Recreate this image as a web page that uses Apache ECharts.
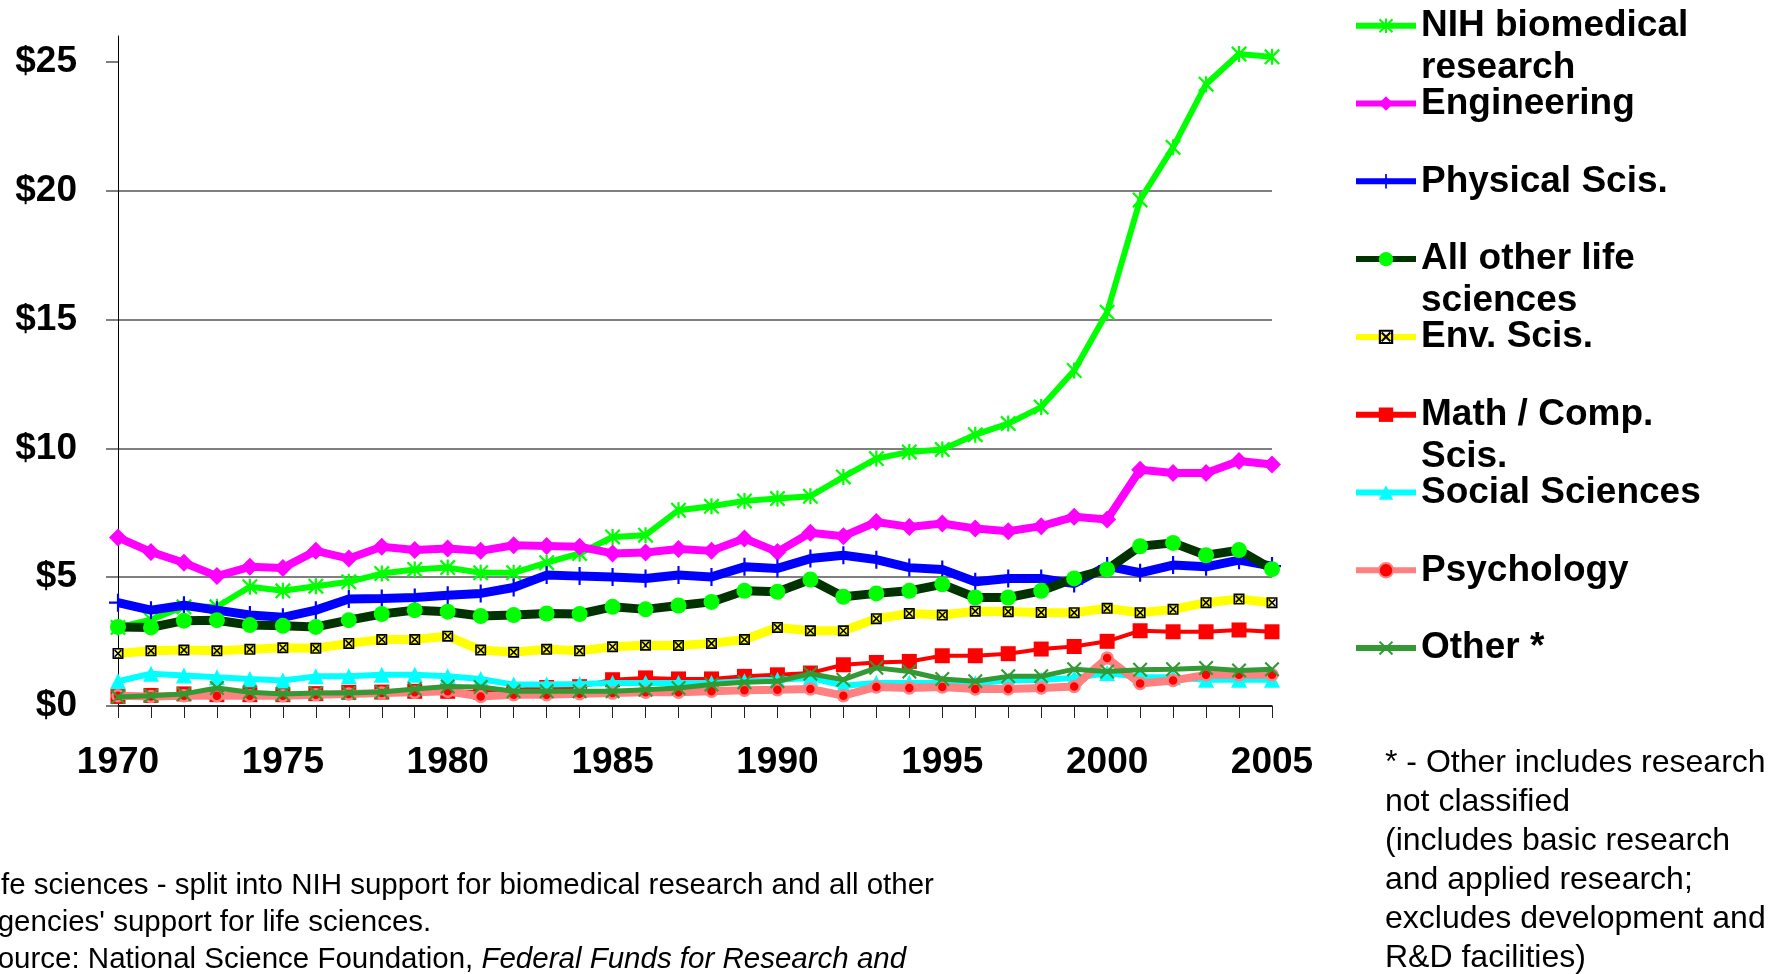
<!DOCTYPE html>
<html>
<head>
<meta charset="utf-8">
<script src="https://cdn.jsdelivr.net/npm/echarts@6/dist/echarts.min.js"></script>
<style>
html,body{margin:0;padding:0;background:#ffffff;}
#chart{width:1785px;height:974px;}
</style>
</head>
<body>
<div id="chart"></div>
<script>
// ---------------- data ----------------
const years = ['1970','1971','1972','1973','1974','1975','1976','1977','1978','1979',
  '1980','1981','1982','1983','1984','1985','1986','1987','1988','1989',
  '1990','1991','1992','1993','1994','1995','1996','1997','1998','1999',
  '2000','2001','2002','2003','2004','2005'];
const yTicks = [0, 5, 10, 15, 20, 25];
const xLabelStep = 5;

const nih = [3.05, 3.35, 3.85, 3.85, 4.63, 4.47, 4.65, 4.82, 5.14, 5.30,
  5.37, 5.17, 5.17, 5.56, 5.92, 6.56, 6.63, 7.60, 7.75, 7.96,
  8.05, 8.14, 8.89, 9.60, 9.86, 9.95, 10.53, 10.96, 11.60, 13.02,
  15.28, 19.64, 21.68, 24.13, 25.30, 25.19];
const engineering = [6.54, 5.98, 5.56, 5.04, 5.40, 5.36, 6.02, 5.72, 6.18, 6.05,
  6.11, 6.02, 6.24, 6.21, 6.18, 5.92, 5.96, 6.09, 6.02, 6.50,
  5.98, 6.72, 6.59, 7.14, 6.95, 7.08, 6.89, 6.78, 6.98, 7.34,
  7.24, 9.17, 9.04, 9.04, 9.51, 9.37];
const physical = [4.01, 3.72, 3.91, 3.72, 3.53, 3.44, 3.72, 4.15, 4.17, 4.21,
  4.30, 4.37, 4.60, 5.08, 5.04, 5.01, 4.95, 5.08, 5.01, 5.40,
  5.34, 5.72, 5.85, 5.68, 5.37, 5.30, 4.82, 4.95, 4.95, 4.75,
  5.43, 5.17, 5.47, 5.40, 5.66, 5.43];
const otherLife = [3.07, 3.05, 3.31, 3.33, 3.14, 3.11, 3.07, 3.33, 3.57, 3.72,
  3.66, 3.49, 3.53, 3.59, 3.57, 3.85, 3.75, 3.90, 4.04, 4.47,
  4.43, 4.91, 4.24, 4.37, 4.47, 4.72, 4.21, 4.21, 4.47, 4.95,
  5.30, 6.20, 6.33, 5.85, 6.05, 5.31];
const envSci = [2.04, 2.14, 2.17, 2.14, 2.20, 2.26, 2.24, 2.43, 2.58, 2.58,
  2.71, 2.17, 2.09, 2.20, 2.14, 2.30, 2.36, 2.35, 2.43, 2.58,
  3.05, 2.92, 2.92, 3.39, 3.59, 3.53, 3.68, 3.66, 3.63, 3.62,
  3.79, 3.62, 3.75, 4.01, 4.15, 4.01];
const mathComp = [0.37, 0.41, 0.47, 0.44, 0.44, 0.44, 0.48, 0.53, 0.54, 0.57,
  0.57, 0.53, 0.62, 0.72, 0.75, 1.02, 1.09, 1.05, 1.05, 1.15,
  1.21, 1.28, 1.60, 1.69, 1.73, 1.95, 1.95, 2.03, 2.21, 2.31,
  2.51, 2.92, 2.88, 2.88, 2.95, 2.88];
const socialSci = [0.96, 1.25, 1.18, 1.12, 1.05, 0.99, 1.15, 1.15, 1.21, 1.21,
  1.15, 1.05, 0.83, 0.83, 0.85, 0.89, 0.89, 0.89, 0.89, 0.96,
  1.02, 1.09, 0.79, 0.89, 0.89, 0.89, 0.88, 0.99, 1.02, 1.09,
  1.28, 1.12, 1.12, 1.02, 1.02, 1.02];
const psychology = [0.40, 0.37, 0.40, 0.40, 0.40, 0.40, 0.44, 0.47, 0.50, 0.53,
  0.57, 0.37, 0.44, 0.44, 0.48, 0.50, 0.53, 0.53, 0.57, 0.61,
  0.63, 0.66, 0.40, 0.74, 0.70, 0.74, 0.66, 0.66, 0.70, 0.76,
  1.86, 0.87, 0.99, 1.21, 1.21, 1.21];
const otherStar = [0.35, 0.40, 0.47, 0.70, 0.53, 0.47, 0.50, 0.50, 0.54, 0.66,
  0.76, 0.74, 0.57, 0.57, 0.57, 0.57, 0.63, 0.70, 0.83, 0.92,
  0.96, 1.25, 1.02, 1.48, 1.34, 1.05, 0.96, 1.15, 1.15, 1.43,
  1.34, 1.41, 1.43, 1.47, 1.38, 1.43];

const seriesNames = ['NIH biomedical research', 'Engineering', 'Physical Scis.',
  'All other life sciences', 'Env. Scis.', 'Math / Comp. Scis.',
  'Social Sciences', 'Psychology', 'Other *'];
const legendLabels = ['NIH biomedical\nresearch', 'Engineering', 'Physical Scis.',
  'All other life\nsciences', 'Env. Scis.', 'Math / Comp.\nScis.',
  'Social Sciences', 'Psychology', 'Other *'];
const seriesData = [nih, engineering, physical, otherLife, envSci, mathComp, socialSci, psychology, otherStar];

const footLeft = "Life sciences - split into NIH support for biomedical research and all other\nAgencies' support for life sciences.\nSource: National Science Foundation, {i|Federal Funds for Research and}";
const footRight = "* - Other includes research\nnot classified\n(includes basic research\nand applied research;\nexcludes development and\nR&D facilities)";

// ---------------- styles ----------------
const FONT = '"Liberation Sans", Arial, Helvetica, sans-serif';
const SYM_STAR = 'path://M8.6,0L11.4,0L11.4,20L8.6,20Z M2,0L20,18L18,20L0,2Z M18,0L20,2L2,20L0,18Z';
const SYM_X = 'path://M2,0L20,18L18,20L0,2Z M18,0L20,2L2,20L0,18Z';
const SYM_PLUS = 'path://M8.8,0L11.2,0L11.2,20L8.8,20Z M0,8.8L20,8.8L20,11.2L0,11.2Z';
const SYM_BOXX = 'path://M0,0L20,0L20,20L0,20Z M3,3L3,17L17,17L17,3Z M3,5L5,3L17,15L15,17Z M15,3L17,5L5,17L3,15Z';

const styles = [
  {line: '#00FF00', width: 6, sym: SYM_STAR, size: 16, fill: '#00FF00'},
  {line: '#FF00FF', width: 8, sym: 'diamond', size: 18, fill: '#FF00FF'},
  {line: '#0000FF', width: 9, sym: SYM_PLUS, size: 18, fill: '#0000FF'},
  {line: '#003300', width: 9, sym: 'circle', size: 16, fill: '#00FF00'},
  {line: '#FFFF00', width: 9, sym: SYM_BOXX, size: 11, fill: '#000000'},
  {line: '#FF0000', width: 4, sym: 'rect', size: 15, fill: '#FF0000'},
  {line: '#00FFFF', width: 6, sym: 'triangle', size: 16, fill: '#00FFFF'},
  {line: '#FF8080', width: 8, sym: 'circle', size: 11, fill: '#FF0000', border: '#FF8080', bw: 2.5},
  {line: '#339933', width: 5, sym: SYM_X, size: 15, fill: '#339933'}
];

const series = seriesNames.map((name, i) => {
  const s = styles[i];
  return {
    name: name,
    type: 'line',
    data: seriesData[i],
    showAllSymbol: true,
    symbol: s.sym,
    symbolSize: s.size,
    lineStyle: {color: s.line, width: s.width},
    itemStyle: {color: s.fill, borderColor: s.border || s.fill, borderWidth: s.bw || 0},
    emphasis: {disabled: true},
    z: 2 + i
  };
});

// legend: one entry per row, first text line centred on the marker
const legendRowStep = 77.8;
const legendFirstRow = 23.2;
const legendLineH = 42;
const legends = seriesNames.map((name, i) => {
  const lines = legendLabels[i].split('\n');
  const shown = lines.length > 1 ? '\n' + legendLabels[i] : legendLabels[i];
  const nLines = shown.split('\n').length;
  return {
    orient: 'vertical',
    left: 1353,
    top: legendFirstRow + i * legendRowStep - 18.5 - (nLines - 1) * legendLineH / 2,
    padding: 0,
    itemWidth: 60,
    itemHeight: 18,
    selectedMode: false,
    data: [name],
    formatter: () => shown,
    lineStyle: {width: 6},
    textStyle: {fontSize: 37, fontWeight: 'bold', color: '#000', fontFamily: FONT, lineHeight: legendLineH}
  };
});

const chart = echarts.init(document.getElementById('chart'), null, {renderer: 'canvas'});
chart.setOption({
  animation: false,
  backgroundColor: '#ffffff',
  grid: {left: 118, right: 513, top: 36, bottom: 268, containLabel: false},
  xAxis: {
    type: 'category',
    data: years,
    boundaryGap: false,
    axisLine: {show: true, lineStyle: {color: '#000', width: 1.5}},
    axisTick: {show: true, interval: 0, length: 12, lineStyle: {color: '#222', width: 1}},
    axisLabel: {interval: xLabelStep - 1, fontSize: 37, fontWeight: 'bold', color: '#000', fontFamily: FONT, margin: 38},
    splitLine: {show: false}
  },
  yAxis: {
    type: 'value',
    min: 0,
    max: 26,
    interval: 5,
    axisLine: {show: true, lineStyle: {color: '#000', width: 1}},
    axisTick: {show: true, length: 12, customValues: yTicks, lineStyle: {color: '#555', width: 1.5}},
    axisLabel: {customValues: yTicks, formatter: v => '$' + v, fontSize: 37, fontWeight: 'bold', color: '#000', fontFamily: FONT, margin: 41},
    splitLine: {show: true, showMaxLine: false, lineStyle: {color: '#555', width: 1.5}}
  },
  legend: legends,
  series: series,
  graphic: [
    {
      type: 'text', x: -22, y: 867, silent: true,
      style: {
        text: footLeft, fill: '#000', fontSize: 29.5, fontFamily: FONT, lineHeight: 37,
        rich: {i: {fontStyle: 'italic', fontSize: 29.5, fontFamily: FONT, lineHeight: 37, fill: '#000'}}
      }
    },
    {
      type: 'text', x: 1385, y: 744, silent: true,
      style: {text: footRight, fill: '#000', fontSize: 32, fontFamily: FONT, lineHeight: 39}
    }
  ]
});
</script>
</body>
</html>
